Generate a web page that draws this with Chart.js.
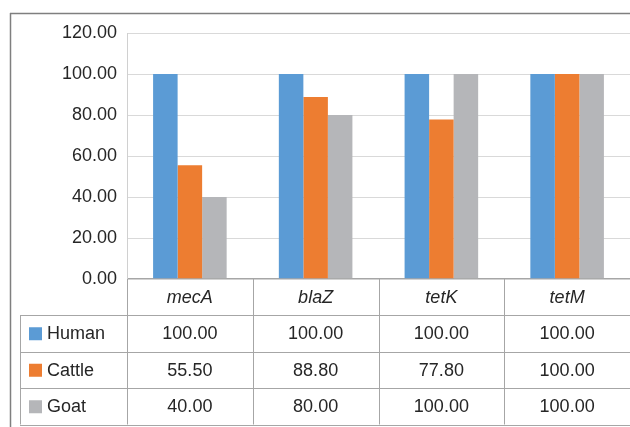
<!DOCTYPE html>
<html>
<head>
<meta charset="utf-8">
<script src="https://cdn.jsdelivr.net/npm/chart.js@4/dist/chart.umd.min.js"></script>
<style>
  html, body { margin: 0; padding: 0; background: #fff; }
  #wrap { width: 630px; height: 427px; position: relative; }
</style>
</head>
<body>
<div id="wrap"><canvas id="chart" width="630" height="427"></canvas></div>
<script>
// Dados do gráfico
const genes = ['mecA', 'blaZ', 'tetK', 'tetM'];
const humano = [100.00, 100.00, 100.00, 100.00];
const bovino = [55.50, 88.80, 77.80, 100.00];
const caprino = [40.00, 80.00, 100.00, 100.00];
const series = ['Human', 'Cattle', 'Goat'];
const yTicks = [0, 20, 40, 60, 80, 100, 120];

const cores = ['#5b9bd5', '#ed7d31', '#b5b6b9'];
const FONTE = '"Liberation Sans", Arial, sans-serif';

// Tabela de dados desenhada abaixo do eixo
const tabelaPlugin = {
  id: 'tabela',
  beforeDraw(chart) {
    const ctx = chart.ctx;
    ctx.save();
    ctx.strokeStyle = '#7f7f7f';
    ctx.lineWidth = 1.5;
    ctx.beginPath();
    ctx.moveTo(10, 13.5); ctx.lineTo(630, 13.5);
    ctx.moveTo(10.5, 13); ctx.lineTo(10.5, 427);
    ctx.stroke();
    ctx.restore();
  },
  afterDraw(chart) {
    const ctx = chart.ctx;
    const x = chart.scales.x;
    const area = chart.chartArea;
    const passo = x.getPixelForValue(1) - x.getPixelForValue(0);
    const topo = area.bottom;
    const alturaCab = 36;
    const alturaLinha = 36.5;
    const esquerda = 20;
    const linhas = [humano, bovino, caprino];

    ctx.save();
    ctx.strokeStyle = '#a6a6a6';
    ctx.lineWidth = 1;
    ctx.beginPath();
    // linhas verticais das categorias
    for (let i = 0; i <= genes.length; i++) {
      const px = Math.round(x.getPixelForValue(i) - passo / 2) + 0.5;
      ctx.moveTo(px, topo);
      ctx.lineTo(px, topo + alturaCab + alturaLinha * 3);
    }
    // linhas horizontais
    for (let r = 0; r <= 3; r++) {
      const py = Math.round(topo + alturaCab + alturaLinha * r) + 0.5;
      ctx.moveTo(esquerda, py);
      ctx.lineTo(630, py);
    }
    ctx.moveTo(esquerda + 0.5, topo + alturaCab);
    ctx.lineTo(esquerda + 0.5, topo + alturaCab + alturaLinha * 3);
    ctx.stroke();

    ctx.fillStyle = '#262626';
    ctx.textBaseline = 'middle';
    ctx.textAlign = 'center';
    ctx.font = 'italic 18px ' + FONTE;
    genes.forEach((g, i) => {
      ctx.fillText(g, x.getPixelForValue(i), topo + alturaCab / 2 + 1);
    });

    ctx.font = '18px ' + FONTE;
    linhas.forEach((vals, r) => {
      const cy = topo + alturaCab + alturaLinha * r + alturaLinha / 2 + 1;
      ctx.fillStyle = cores[r];
      ctx.fillRect(29, cy - 7, 13, 13);
      ctx.fillStyle = '#262626';
      ctx.textAlign = 'left';
      ctx.fillText(series[r], 47, cy);
      ctx.textAlign = 'center';
      vals.forEach((v, i) => {
        ctx.fillText(v.toFixed(2), x.getPixelForValue(i), cy);
      });
    });
    ctx.restore();
  }
};

new Chart(document.getElementById('chart'), {
  type: 'bar',
  data: {
    labels: genes,
    datasets: [humano, bovino, caprino].map((d, i) => ({
      label: series[i],
      data: d,
      backgroundColor: cores[i],
      categoryPercentage: 0.585,
      barPercentage: 1
    }))
  },
  options: {
    responsive: false,
    animation: false,
    layout: { padding: { top: 33, bottom: 148, left: 0, right: 0 } },
    plugins: { legend: { display: false }, tooltip: { enabled: false } },
    scales: {
      x: { display: false },
      y: {
        min: 0,
        max: 120,
        afterBuildTicks: (s) => { s.ticks = yTicks.map(v => ({ value: v })); },
        afterFit: (s) => { s.width = 127; },
        border: { display: true, color: '#d0d0d0', width: 1 },
        grid: {
          drawTicks: false,
          color: (c) => c.tick && c.tick.value === 0 ? '#a6a6a6' : '#d9d9d9',
          lineWidth: (c) => c.tick && c.tick.value === 0 ? 1.5 : 1
        },
        ticks: {
          padding: 10,
          color: '#262626',
          font: { family: FONTE, size: 18 },
          callback: (v) => Number(v).toFixed(2)
        }
      }
    }
  },
  plugins: [tabelaPlugin]
});
</script>
</body>
</html>
